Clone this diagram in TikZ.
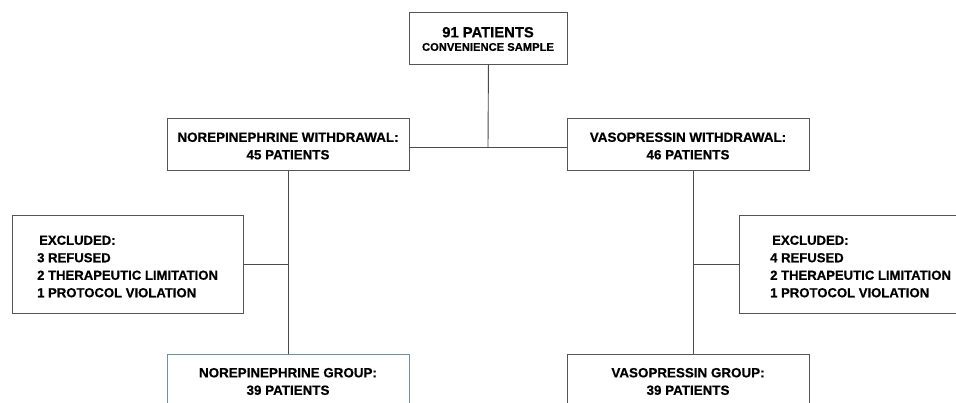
\documentclass[tikz,border=0pt]{standalone}
\usepackage{fontspec}
\setmainfont{Liberation Sans}[BoldFeatures={FakeBold=0.6}]
\definecolor{boxgray}{HTML}{555555}
\definecolor{linegray}{HTML}{4A4A4A}
\definecolor{boxblue}{HTML}{7090A8}
\begin{document}
\begin{tikzpicture}[x=1pt,y=-1pt,
  box/.style={draw=boxgray,line width=0.9pt,rectangle,inner sep=0pt,anchor=north west},
  txt/.style={font=\bfseries\fontsize{13.4}{17.5}\selectfont,align=center,inner sep=0pt},
  extxt/.style={font=\bfseries\fontsize{13.1}{17.5}\selectfont,align=left,inner sep=0pt,anchor=west},
  conn/.style={draw=linegray,line width=0.9pt}]
\useasboundingbox (0,0) rectangle (956,403);
\clip (0,0) rectangle (956,403);
% top
\node[box,minimum width=158pt,minimum height=52pt] (top) at (409,12) {};
\node[inner sep=0pt,align=center] (toptxt) at (488,39)
  {{\bfseries\fontsize{14.8}{18}\selectfont 91 PATIENTS}\\[1.5pt]{\bfseries\fontsize{11.2}{14}\selectfont CONVENIENCE SAMPLE}};
% withdrawal
\node[box,minimum width=242pt,minimum height=52pt] (nw) at (167,118) {};
\node[txt] (nwtxt) at (288,146) {NOREPINEPHRINE WITHDRAWAL:\\45 PATIENTS};
\node[box,minimum width=242pt,minimum height=52pt] (vw) at (567,118) {};
\node[txt] (vwtxt) at (688,146) {VASOPRESSIN WITHDRAWAL:\\46 PATIENTS};
% excluded
\node[box,minimum width=231pt,minimum height=98pt] (ex1) at (12,215) {};
\node[extxt] (ex1txt) at (37,266.5) {\hspace{2pt}EXCLUDED:\\3 REFUSED\\2 THERAPEUTIC LIMITATION\\1 PROTOCOL VIOLATION};
\node[box,minimum width=240pt,minimum height=98pt] (ex2) at (739,215) {};
\node[extxt] (ex2txt) at (770,266.5) {\hspace{2pt}EXCLUDED:\\4 REFUSED\\2 THERAPEUTIC LIMITATION\\1 PROTOCOL VIOLATION};
% groups
\node[box,draw=boxblue,minimum width=242pt,minimum height=80pt] (ng) at (167,354) {};
\node[txt] (ngtxt) at (288,381.5) {NOREPINEPHRINE GROUP:\\39 PATIENTS};
\node[box,minimum width=242pt,minimum height=80pt] (vg) at (567,354) {};
\node[txt] (vgtxt) at (688,381.5) {VASOPRESSIN GROUP:\\39 PATIENTS};
% connectors
\coordinate (split) at (488,147);
\draw[conn] (top.south) -- (split);
\draw[conn] (nw.east |- split) -- (vw.west |- split);
\coordinate (lj) at (288,264);
\coordinate (rj) at (693,264);
\draw[conn] (nw.south) -- (ng.north);
\draw[conn] (vw.south -| rj) -- (vg.north -| rj);
\draw[conn] (ex1.east |- lj) -- (lj);
\draw[conn] (ex2.west |- rj) -- (rj);
\end{tikzpicture}
\end{document}
